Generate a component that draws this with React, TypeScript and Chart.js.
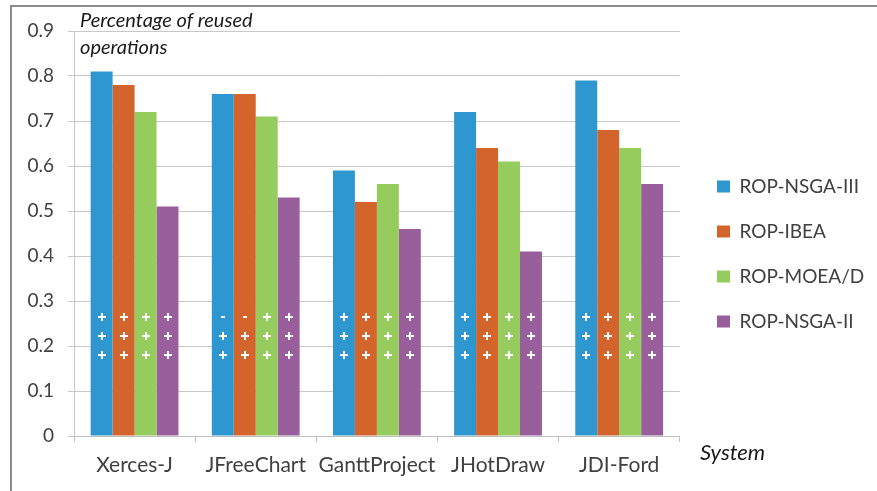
import React, { useEffect, useRef } from "react";
import { Chart, registerables } from "chart.js";

Chart.register(...registerables);

const categories = ["Xerces-J", "JFreeChart", "GanttProject", "JHotDraw", "JDI-Ford"];
const seriesNames = ["ROP-NSGA-III", "ROP-IBEA", "ROP-MOEA/D", "ROP-NSGA-II"];
const nsga3Values = [0.81, 0.76, 0.59, 0.72, 0.79];
const ibeaValues = [0.78, 0.76, 0.52, 0.64, 0.68];
const moeadValues = [0.72, 0.71, 0.56, 0.61, 0.64];
const nsga2Values = [0.51, 0.53, 0.46, 0.41, 0.56];
const seriesColors = ["#2f97cf", "#d3642c", "#96cb5d", "#995f9c"];
const yTicks = [0, 0.1, 0.2, 0.3, 0.4, 0.5, 0.6, 0.7, 0.8, 0.9];
const markerLevels = [0.265, 0.222, 0.18];
const nsga3Signs = ["+++", "-++", "+++", "+++", "+++"];
const ibeaSigns = ["+++", "-++", "+++", "+++", "+++"];
const moeadSigns = ["+++", "+++", "+++", "+++", "+++"];
const nsga2Signs = ["+++", "+++", "+++", "+++", "+++"];
const yTitleLines = ["Percentage of reused", "operations"];
const xTitle = "System";

const FONT = "Lato, 'Open Sans', sans-serif";
const LEGEND_PAD = 26;

const markerPlugin = {
  id: "markers",
  afterDatasetsDraw(chart: any) {
    const ctx = chart.ctx;
    const yScale = chart.scales.y;
    const allSigns = [nsga3Signs, ibeaSigns, moeadSigns, nsga2Signs];
    ctx.save();
    ctx.strokeStyle = "#ffffff";
    ctx.lineWidth = 2;
    ctx.lineCap = "butt";
    chart.data.datasets.forEach((_: any, i: number) => {
      const meta = chart.getDatasetMeta(i);
      meta.data.forEach((el: any, j: number) => {
        const signs = allSigns[i][j];
        markerLevels.forEach((lvl, r) => {
          const y = Math.round(yScale.getPixelForValue(lvl));
          const x = Math.round(el.x);
          const s = signs[r];
          const arm = 4;
          ctx.beginPath();
          if (s === "+") {
            ctx.moveTo(x - arm, y);
            ctx.lineTo(x + arm, y);
            ctx.moveTo(x, y - arm);
            ctx.lineTo(x, y + arm);
          } else {
            ctx.moveTo(x - 2, y);
            ctx.lineTo(x + 2, y);
          }
          ctx.stroke();
        });
      });
    });
    ctx.restore();
  },
};

const legendShiftPlugin = {
  id: "legendShift",
  afterLayout(chart: any) {
    const lg = chart.legend;
    if (!lg) return;
    const dx = 717 - LEGEND_PAD - lg.left;
    const dy = -7;
    lg.left += dx;
    lg.right += dx;
    lg.top += dy;
    lg.bottom += dy;
  },
};

const textPlugin = {
  id: "axisTexts",
  afterDraw(chart: any) {
    const ctx = chart.ctx;
    ctx.save();
    ctx.fillStyle = "#1a1a1a";
    ctx.font = `italic 20px ${FONT}`;
    ctx.textAlign = "left";
    ctx.textBaseline = "alphabetic";
    ctx.fillText(yTitleLines[0], 80, 27);
    ctx.fillText(yTitleLines[1], 80, 54);
    ctx.font = `italic 22px ${FONT}`;
    ctx.fillText(xTitle, 700, 460);
    ctx.restore();
  },
};

export default function App() {
  const ref = useRef<HTMLCanvasElement | null>(null);
  useEffect(() => {
    if (!ref.current) return;
    const values = [nsga3Values, ibeaValues, moeadValues, nsga2Values];
    const chart = new Chart(ref.current, {
      type: "bar",
      data: {
        labels: categories,
        datasets: seriesNames.map((name, i) => ({
          label: name,
          data: values[i],
          backgroundColor: seriesColors[i],
          borderWidth: 0,
          categoryPercentage: 0.725,
          barPercentage: 1,
        })),
      },
      options: {
        animation: false,
        responsive: false,
        maintainAspectRatio: false,
        layout: { padding: { top: 31, left: 0, right: 14, bottom: 0 } },
        plugins: {
          tooltip: { enabled: false },
          legend: {
            position: "right",
            labels: {
              boxWidth: 13,
              boxHeight: 12,
              padding: LEGEND_PAD,
              color: "#404040",
              font: { family: FONT, size: 19 },
            },
          },
        },
        scales: {
          x: {
            grid: {
              display: true,
              drawOnChartArea: false,
              drawTicks: true,
              tickLength: 6,
              offset: true,
              color: "#bfbfbf",
            },
            border: { color: "#bfbfbf" },
            ticks: { color: "#404040", font: { family: FONT, size: 21 }, padding: 11, maxRotation: 0 },
            afterFit: (s: any) => {
              s.height = 55;
            },
          },
          y: {
            min: 0,
            max: 0.9,
            afterBuildTicks: (s: any) => {
              s.ticks = yTicks.map((v) => ({ value: v }));
            },
            ticks: {
              color: "#404040",
              font: { family: FONT, size: 19 },
              padding: 14,
              callback: (v: any) => (v === 0 ? "0" : Number(v).toFixed(1)),
            },
            grid: { color: "#c8c8c8", tickLength: 6 },
            border: { color: "#c8c8c8" },
            afterFit: (s: any) => {
              s.width = 74;
            },
          },
        },
      },
      plugins: [markerPlugin, legendShiftPlugin, textPlugin],
    });
    return () => chart.destroy();
  }, []);

  return (
    <div style={{ position: "absolute", left: 0, top: 0, width: 877, height: 491, background: "#fff", overflow: "hidden" }}>
      <div
        style={{
          position: "absolute",
          left: 10,
          top: 5,
          width: 880,
          height: 484,
          borderLeft: "2px solid #8c8c8c",
          borderTop: "2px solid #8c8c8c",
          borderBottom: "1px solid #e0e0e0",
        }}
      />
      <canvas ref={ref} width={877} height={491} style={{ position: "absolute", left: 0, top: 0, display: "block" }} />
    </div>
  );
}
